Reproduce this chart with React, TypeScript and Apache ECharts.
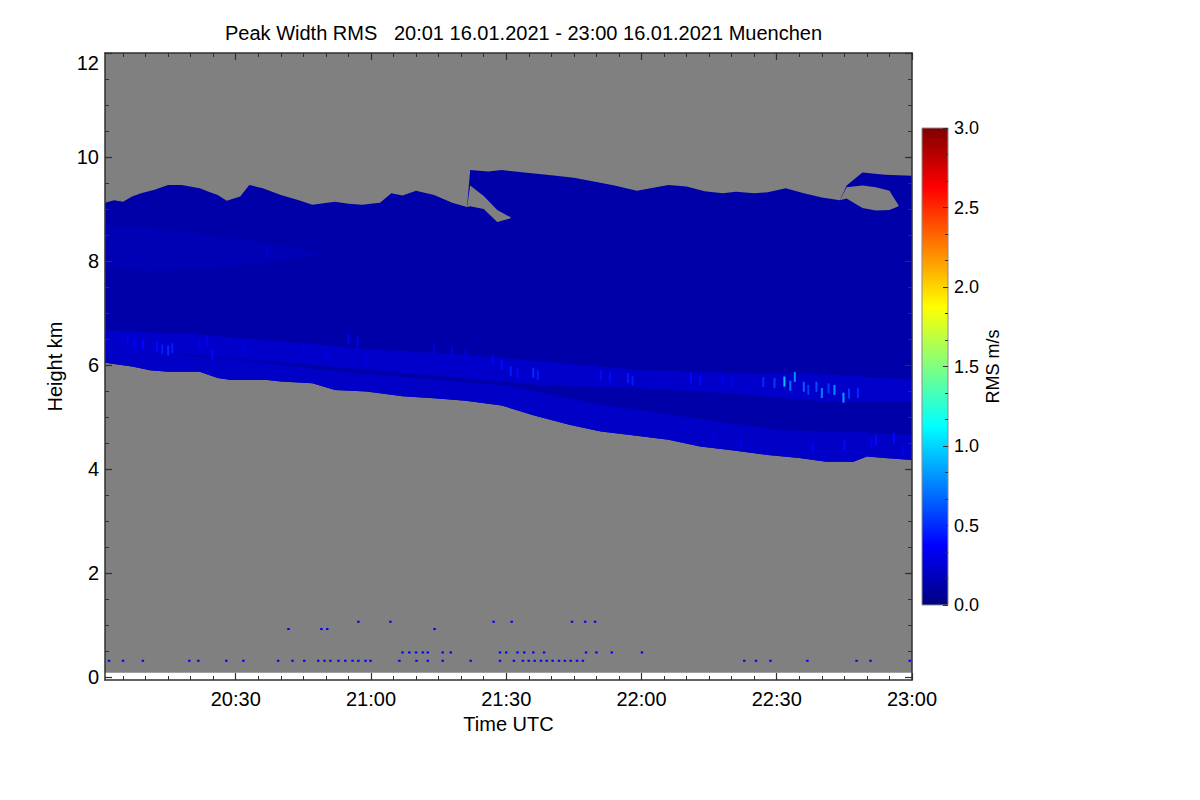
import React, { useEffect, useRef } from "react";
import * as echarts from "echarts";

// ---------- text ----------
const TITLE = "Peak Width RMS   20:01 16.01.2021 - 23:00 16.01.2021 Muenchen";
const X_NAME = "Time UTC";
const Y_NAME = "Height km";
const CB_NAME = "RMS m/s";

// ---------- axes (time in minutes after 20:00 UTC, height in km) ----------
const TIME_MIN = 1;
const TIME_MAX = 180;
const TIME_TICKS = [30, 60, 90, 120, 150, 180];
const TIME_MINOR_TICKS = [5, 10, 15, 20, 25, 30, 35, 40, 45, 50, 55, 60, 65, 70, 75, 80, 85, 90, 95, 100, 105, 110, 115, 120, 125, 130, 135, 140, 145, 150, 155, 160, 165, 170, 175, 180];
const HEIGHT_MIN = -0.06;
const HEIGHT_MAX = 12;
const HEIGHT_TICKS = [0, 2, 4, 6, 8, 10, 12];
const HEIGHT_MINOR_TICKS = [0.5, 1, 1.5, 2, 2.5, 3, 3.5, 4, 4.5, 5, 5.5, 6, 6.5, 7, 7.5, 8, 8.5, 9, 9.5, 10, 10.5, 11, 11.5];
const FIRST_GATE_KM = 0.08;
const RMS_MIN = 0;
const RMS_MAX = 3;

// ---------- cloud top ----------
const cloudTopMin = [1, 3, 5, 7, 9, 12, 15, 18, 22, 24, 26, 28, 31, 33, 36, 40, 44, 47, 52, 55, 58, 62, 64.5, 67, 70, 74, 78, 81.3, 82, 86, 89, 94, 100, 105, 110, 114, 119, 122, 126, 130, 134, 138, 141, 145, 148, 152, 156, 160, 164, 165.5, 169, 174, 180];
const cloudTopKm = [9.12, 9.17, 9.14, 9.24, 9.3, 9.37, 9.46, 9.46, 9.4, 9.33, 9.27, 9.16, 9.24, 9.46, 9.4, 9.27, 9.17, 9.08, 9.14, 9.1, 9.08, 9.12, 9.3, 9.26, 9.35, 9.27, 9.12, 9.04, 9.75, 9.72, 9.75, 9.7, 9.65, 9.6, 9.52, 9.45, 9.35, 9.4, 9.46, 9.43, 9.34, 9.3, 9.33, 9.3, 9.32, 9.4, 9.3, 9.22, 9.17, 9.45, 9.7, 9.66, 9.64];

// ---------- cloud base ----------
const cloudBaseMin = [1, 7, 11, 15, 22, 26, 29, 37, 40, 47, 52, 59, 67, 74, 81, 89, 96, 104, 111, 118, 126, 133, 140, 148, 155, 161, 167, 170, 174, 180];
const cloudBaseKm = [6.04, 5.97, 5.9, 5.87, 5.87, 5.75, 5.71, 5.71, 5.68, 5.65, 5.52, 5.49, 5.4, 5.36, 5.31, 5.22, 5.03, 4.85, 4.72, 4.65, 4.56, 4.43, 4.36, 4.27, 4.21, 4.14, 4.14, 4.24, 4.21, 4.17];

// ---------- slightly enhanced region aloft ----------
const upperMin = [1, 10, 25, 40, 50];
const upperTopKm = [8.7, 8.65, 8.5, 8.3, 8.15];
const upperBottomKm = [7.9, 7.8, 7.85, 8.0, 8.15];

// ---------- enhanced band ----------
const bandMin = [1, 20, 40, 60, 80, 100, 120, 140, 160, 180];
const bandTopKm = [6.66, 6.6, 6.45, 6.3, 6.2, 6.05, 5.9, 5.85, 5.82, 5.72];
const bandBottomKm = [6.2, 6.2, 6.05, 5.9, 5.75, 5.6, 5.55, 5.45, 5.3, 5.3];

// ---------- layer just above cloud base ----------
const baseLayerMin = [1, 30, 50, 70, 90, 110, 130, 150, 170, 180];
const baseLayerTopKm = [6.3, 6.1, 5.9, 5.75, 5.6, 5.25, 5.0, 4.75, 4.7, 4.65];

// ---------- clear-air gaps inside the cloud top ----------
const gapAMin = [81.3, 82, 85, 88, 91];
const gapALowKm = [9.04, 9.05, 9.0, 8.75, 8.82];
const gapAHighKm = [9.04, 9.45, 9.25, 8.98, 8.84];
const gapBMin = [164, 165.5, 169, 172, 175, 177];
const gapBLowKm = [9.17, 9.2, 9.02, 8.97, 8.98, 9.05];
const gapBHighKm = [9.17, 9.42, 9.45, 9.42, 9.35, 9.07];

// ---------- layer RMS values (m/s) ----------
const BODY_RMS = 0.12;
const UPPER_RMS = 0.155;
const BAND_RMS = 0.22;
const BASE_LAYER_RMS = 0.21;

// ---------- brighter streaks ----------
const streakMin = [6, 7.5, 9.4, 12.5, 13.7, 15, 15.9, 22, 23.7, 24.8, 31.7, 37, 45, 50, 55, 57, 59, 74, 78, 81, 87, 89, 91, 92.5, 96, 97, 111, 113, 117, 118, 131, 133, 138, 140, 147, 149.5, 151.7, 153, 154, 156, 157, 158.8, 160, 161.5, 162.8, 164.8, 166, 168, 172, 176, 136, 142, 158, 165, 171, 178];
const streakKm = [6.5, 6.4, 6.4, 6.35, 6.3, 6.28, 6.32, 6.4, 6.45, 6.2, 6.35, 8.2, 6.3, 6.2, 6.5, 6.45, 6.1, 6.3, 6.25, 6.2, 6.1, 6.0, 5.88, 5.85, 5.85, 5.8, 5.8, 5.75, 5.75, 5.7, 5.75, 5.7, 5.7, 5.68, 5.67, 5.65, 5.68, 5.6, 5.77, 5.58, 5.52, 5.58, 5.46, 5.55, 5.52, 5.37, 5.45, 5.46, 4.55, 4.6, 4.6, 4.5, 4.4, 4.45, 4.5, 4.35];
const streakRms = [0.35, 0.38, 0.4, 0.4, 0.45, 0.5, 0.45, 0.35, 0.38, 0.4, 0.32, 0.28, 0.3, 0.3, 0.35, 0.35, 0.3, 0.3, 0.3, 0.3, 0.35, 0.4, 0.45, 0.4, 0.5, 0.45, 0.4, 0.4, 0.45, 0.45, 0.4, 0.4, 0.35, 0.35, 0.5, 0.55, 0.95, 0.7, 0.8, 0.65, 0.55, 0.6, 0.75, 0.55, 0.8, 0.85, 0.55, 0.5, 0.4, 0.4, 0.32, 0.32, 0.35, 0.4, 0.35, 0.35];

// ---------- low-level speckles ----------
const speckleRowKm = [0.31, 0.47, 0.92, 1.06];
const speckleRowMin = [
  [1.9, 5, 9.4, 19.7, 21.7, 27.9, 31.7, 39.4, 42.6, 45.2, 48.3, 49.7, 51, 52.8, 54.3, 55.9, 57.2, 58.8, 59.9, 66.3, 70.1, 72.6, 75.9, 82.1, 88.6, 91.7, 93.7, 95, 96.3, 97.7, 99, 100.3, 101.7, 103, 104.3, 105.7, 107, 142.8, 145.4, 148.6, 156.8, 167.7, 170.8, 179.5],
  [67, 68.5, 70, 71.5, 72.6, 75.9, 77.7, 88.6, 90, 92.5, 94, 96, 98.4, 107.7, 110, 113.4, 120.1],
  [41.7, 49, 50.3, 74.1],
  [57.2, 64.3, 87.2, 91.2, 104.6, 107.5, 109.7],
];
const SPECKLE_RMS = 0.35;

// ---------- style ----------
const FONT = '"Liberation Sans", Arial, Helvetica, sans-serif';
const AX = "#303030";
const SKY = "#808080";
const JET = ["#000080", "#0000ff", "#0080ff", "#00ffff", "#80ff80", "#ffff00", "#ff8000", "#ff0000", "#800000"];

function jet(v: number): string {
  const f = Math.max(0, Math.min(1, (v - RMS_MIN) / (RMS_MAX - RMS_MIN)));
  const c = (x: number) => Math.round(255 * Math.max(0, Math.min(1, x)));
  const r = c(1.5 - Math.abs(4 * f - 3));
  const g = c(1.5 - Math.abs(4 * f - 2));
  const b = c(1.5 - Math.abs(4 * f - 1));
  return `rgb(${r},${g},${b})`;
}

function fmtTime(v: number): string {
  const h = 20 + Math.floor(v / 60);
  const m = Math.round(v % 60);
  return `${h}:${m < 10 ? "0" + m : m}`;
}

type Layer = { upT: number[]; upK: number[]; loT: number[]; loK: number[]; fill: string };

export default function App() {
  const ref = useRef<HTMLDivElement>(null);

  useEffect(() => {
    if (!ref.current) return;
    const chart = echarts.init(ref.current, undefined, { renderer: "svg" });

    // layers painted in order, each bounded above and below by read boundaries
    const layers: Layer[] = [
      { upT: cloudTopMin, upK: cloudTopKm, loT: cloudBaseMin, loK: cloudBaseKm, fill: jet(BODY_RMS) },
      { upT: upperMin, upK: upperTopKm, loT: upperMin, loK: upperBottomKm, fill: jet(UPPER_RMS) },
      { upT: bandMin, upK: bandTopKm, loT: bandMin, loK: bandBottomKm, fill: jet(BAND_RMS) },
      { upT: baseLayerMin, upK: baseLayerTopKm, loT: cloudBaseMin, loK: cloudBaseKm, fill: jet(BASE_LAYER_RMS) },
      { upT: gapAMin, upK: gapAHighKm, loT: gapAMin, loK: gapALowKm, fill: SKY },
      { upT: gapBMin, upK: gapBHighKm, loT: gapBMin, loK: gapBLowKm, fill: SKY },
    ];

    const labelStyle = { fontSize: 20, color: "#000", fontFamily: FONT };
    const xCommon = { type: "value", gridIndex: 0, min: TIME_MIN, max: TIME_MAX, splitLine: { show: false }, z: 10 };
    const yCommon = { type: "value", gridIndex: 0, min: HEIGHT_MIN, max: HEIGHT_MAX, splitLine: { show: false }, z: 10 };
    const lineOn = { show: true, onZero: false, lineStyle: { color: AX, width: 1.5 } };
    const lineOff = { show: false, onZero: false };
    const major = (vals: number[]) => ({ show: true, inside: true, length: 7, customValues: vals, lineStyle: { color: AX, width: 1.2 } });
    const minor = (vals: number[]) => ({ show: true, inside: true, length: 4, customValues: vals, lineStyle: { color: AX, width: 1 } });

    const speckleData: number[][] = [];
    speckleRowMin.forEach((row, r) => row.forEach((t) => speckleData.push([t, speckleRowKm[r], SPECKLE_RMS])));

    const series: any[] = [
      {
        name: "cloud layers",
        type: "custom",
        coordinateSystem: "cartesian2d",
        xAxisIndex: 0,
        yAxisIndex: 0,
        clip: true,
        silent: true,
        data: layers.map((l, i) => [l.upT[0], l.upK[0], i]),
        renderItem: (params: any, api: any) => {
          const L = layers[params.dataIndex];
          const pts: number[][] = [];
          for (let i = 0; i < L.upT.length; i++) pts.push(api.coord([L.upT[i], L.upK[i]]));
          for (let i = L.loT.length - 1; i >= 0; i--) pts.push(api.coord([L.loT[i], L.loK[i]]));
          return { type: "polygon", shape: { points: pts }, style: { fill: L.fill, stroke: null } };
        },
      },
      {
        name: "below first gate",
        type: "line",
        xAxisIndex: 0,
        yAxisIndex: 0,
        symbol: "none",
        showSymbol: false,
        silent: true,
        lineStyle: { width: 0 },
        data: [[TIME_MIN, FIRST_GATE_KM], [TIME_MAX, FIRST_GATE_KM]],
        areaStyle: { color: "#ffffff", opacity: 1, origin: "start" },
      },
      {
        name: "streaks",
        type: "scatter",
        xAxisIndex: 0,
        yAxisIndex: 0,
        z: 5,
        symbol: "rect",
        symbolSize: [2, 10],
        data: streakMin.map((t, i) => [t, streakKm[i], streakRms[i]]),
        itemStyle: { color: (p: any) => jet(p.value[2]), opacity: 1 },
        silent: true,
        emphasis: { disabled: true },
      },
      {
        name: "speckles",
        type: "scatter",
        xAxisIndex: 0,
        yAxisIndex: 0,
        z: 5,
        symbol: "rect",
        symbolSize: [2.5, 2],
        data: speckleData,
        itemStyle: { color: (p: any) => jet(p.value[2]), opacity: 1 },
        silent: true,
        emphasis: { disabled: true },
      },
      {
        name: "colorbar",
        type: "bar",
        xAxisIndex: 4,
        yAxisIndex: 4,
        data: [RMS_MAX],
        barWidth: "100%",
        silent: true,
        itemStyle: {
          color: new echarts.graphic.LinearGradient(
            0, 1, 0, 0,
            JET.map((c, i) => ({ offset: i / (JET.length - 1), color: c }))
          ),
        },
      },
    ];

    const option: any = {
      animation: false,
      backgroundColor: "#ffffff",
      title: {
        text: TITLE,
        left: 220,
        top: 18,
        textStyle: { fontSize: 20, fontWeight: "normal", color: "#000", fontFamily: FONT },
      },
      grid: [
        { left: 105, right: 288, top: 53, bottom: 120, show: true, backgroundColor: SKY, borderWidth: 0 },
        { left: 922, top: 128, width: 26, height: 477, show: true, backgroundColor: "transparent", borderColor: "#8c8c8c", borderWidth: 1, z: 3 },
      ],
      xAxis: [
        {
          ...xCommon,
          position: "bottom",
          axisLine: lineOn,
          axisTick: major(TIME_TICKS),
          axisLabel: { show: true, customValues: TIME_TICKS, formatter: fmtTime, margin: 9, ...labelStyle },
          name: X_NAME,
          nameLocation: "middle",
          nameGap: 30,
          nameTextStyle: labelStyle,
        },
        { ...xCommon, position: "bottom", axisLine: lineOff, axisTick: minor(TIME_MINOR_TICKS), axisLabel: { show: false } },
        { ...xCommon, position: "top", axisLine: lineOn, axisTick: major(TIME_TICKS), axisLabel: { show: false } },
        { ...xCommon, position: "top", axisLine: lineOff, axisTick: minor(TIME_MINOR_TICKS), axisLabel: { show: false } },
        { type: "category", gridIndex: 1, data: [""], show: false },
      ],
      yAxis: [
        {
          ...yCommon,
          position: "left",
          axisLine: lineOn,
          axisTick: major(HEIGHT_TICKS),
          axisLabel: { show: true, customValues: HEIGHT_TICKS, margin: 6, verticalAlignMaxLabel: "top", ...labelStyle },
          name: Y_NAME,
          nameLocation: "middle",
          nameGap: 40,
          nameRotate: 90,
          nameTextStyle: labelStyle,
        },
        { ...yCommon, position: "left", axisLine: lineOff, axisTick: minor(HEIGHT_MINOR_TICKS), axisLabel: { show: false } },
        { ...yCommon, position: "right", axisLine: lineOn, axisTick: major(HEIGHT_TICKS), axisLabel: { show: false } },
        { ...yCommon, position: "right", axisLine: lineOff, axisTick: minor(HEIGHT_MINOR_TICKS), axisLabel: { show: false } },
        {
          type: "value",
          gridIndex: 1,
          position: "right",
          min: RMS_MIN,
          max: RMS_MAX,
          interval: 0.5,
          z: 10,
          splitLine: { show: false },
          axisLine: { show: false, onZero: false },
          axisTick: { show: true, inside: true, length: 5, lineStyle: { color: AX, width: 1 } },
          minorTick: { show: true, splitNumber: 3, length: 3, lineStyle: { color: AX, width: 1 } },
          axisLabel: { show: true, margin: 6, formatter: (v: number) => v.toFixed(1), fontSize: 18, color: "#000", fontFamily: FONT },
          name: CB_NAME,
          nameLocation: "middle",
          nameRotate: 90,
          nameGap: 36,
          nameTextStyle: { fontSize: 18, color: "#000", fontFamily: FONT },
        },
      ],
      series,
    };

    chart.setOption(option);
    return () => chart.dispose();
  }, []);

  return (
    <div
      ref={ref}
      style={{ position: "fixed", left: 0, top: 0, width: 1200, height: 800, background: "#fff" }}
    />
  );
}
